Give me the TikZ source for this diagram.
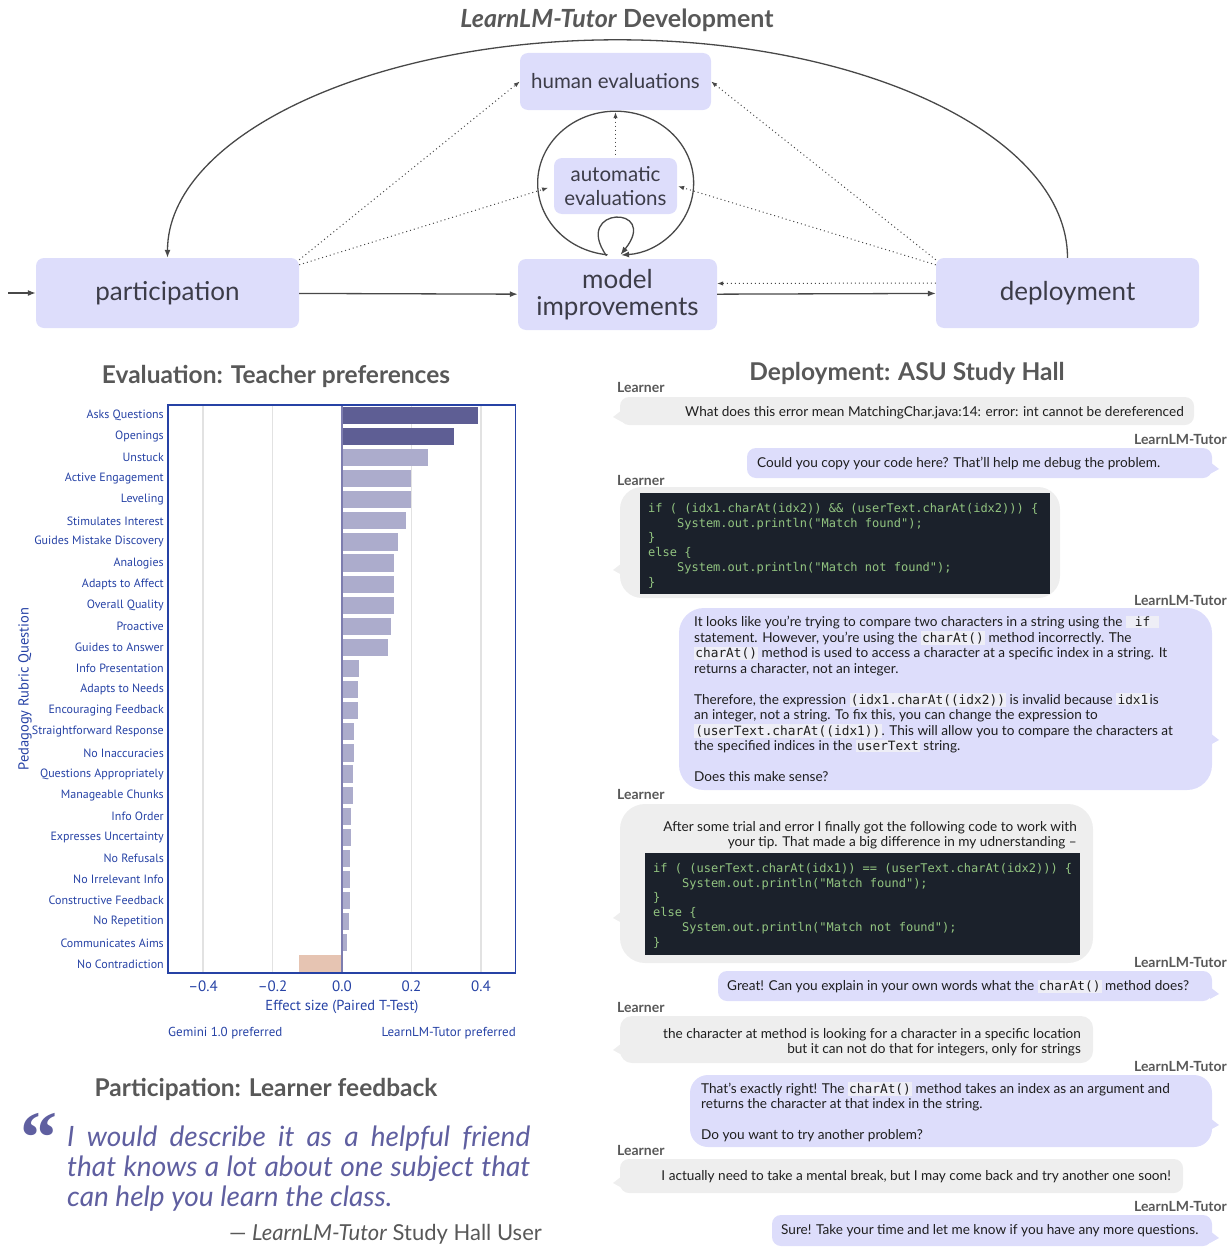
\documentclass[tikz,border=0pt]{standalone}
\usepackage{fontspec}
\setmainfont{Lato}
\setmonofont{DejaVu Sans Mono}
\newfontfamily\chartfont{PT Sans}
\newfontfamily\quotefont{Liberation Serif}
\usetikzlibrary{positioning,arrows.meta}

\definecolor{boxfill}{RGB}{221,221,251}
\definecolor{boxtext}{RGB}{60,60,72}
\definecolor{linegray}{RGB}{72,72,72}
\definecolor{headgray}{RGB}{88,88,88}
\definecolor{chattext}{RGB}{30,30,30}
\definecolor{learnerfill}{RGB}{238,238,238}
\definecolor{codebg}{RGB}{27,33,43}
\definecolor{codegreen}{RGB}{146,196,128}
\definecolor{inlinebg}{RGB}{238,238,246}
\definecolor{chartblue}{RGB}{38,66,165}
\definecolor{bardark}{RGB}{94,94,148}
\definecolor{barlight}{RGB}{172,172,204}
\definecolor{barneg}{RGB}{230,196,178}
\definecolor{zeroline}{RGB}{125,125,175}
\definecolor{gridgray}{RGB}{226,226,226}
\definecolor{quoteblue}{RGB}{95,95,160}

\newcommand{\fsz}[2]{\fontsize{#1}{#2}\selectfont}
\newcommand{\ic}[1]{{\setlength{\fboxsep}{1.2pt}\colorbox{inlinebg}{\ttfamily\fsz{12.8}{15.5}#1}}}
% bubble: x1, y1, x2, y2, corner radius, tail y
\newcommand{\learnerbubble}[6]{%
  \fill[learnerfill,rounded corners=#5] (#1,#2) rectangle (#3,#4);
  \fill[learnerfill] ({#1+2},{#6-7}) -- ({#1-7},#6) -- ({#1+2},{#6+5}) -- cycle;}
\newcommand{\tutorbubble}[6]{%
  \fill[boxfill,rounded corners=#5] (#1,#2) rectangle (#3,#4);
  \fill[boxfill] ({#3-2},{#6-7}) -- ({#3+7},#6) -- ({#3-2},{#6+5}) -- cycle;}

\begin{document}
\begin{tikzpicture}[x=1pt,y=-1pt]
    \tikzset{>={Latex[length=8pt,width=6pt]}}
    \tikzset{
      stage/.style={fill=boxfill, rounded corners=8pt, inner sep=0pt, text=boxtext},
      flow/.style={->, draw=linegray, line width=1.3pt},
      dotflow/.style={-{Latex[length=6pt,width=4.5pt]}, draw=linegray, line width=1pt, dash pattern=on 1pt off 3pt},
      heading/.style={font=\bfseries\fsz{24.5}{28}, text=headgray, inner sep=0pt},
      who/.style={font=\bfseries\fsz{14}{16}, text=headgray, inner sep=0pt},
      chat/.style={font=\fsz{13.6}{15.5}, text=chattext, inner sep=0pt},
      code/.style={font=\ttfamily\fsz{12}{14.75}, text=codegreen, inner sep=0pt, align=left},
      barlabel/.style={font=\chartfont\fsz{12}{14}, text=chartblue, inner sep=0pt},
      axislab/.style={font=\chartfont\fsz{14.5}{17}, text=chartblue, inner sep=0pt},
    }
    \useasboundingbox (0,0) rectangle (1229,1247);

    % development cycle
    \node[heading, font=\bfseries\fsz{25}{29}] (title) at (617,20) {\textit{LearnLM-Tutor} Development};
    \node[stage, minimum width=191pt, minimum height=57pt, font=\fsz{20.5}{24}] (human) at (615.5,81.5) {human evaluations};
    \node[stage, minimum width=123pt, minimum height=56pt, align=center, font=\fsz{20.5}{24}] (auto) at (615.5,186) {automatic\\evaluations};
    \node[stage, minimum width=263pt, minimum height=70pt, font=\fsz{26}{28}] (part) at (167.5,293) {participation};
    \node[stage, minimum width=199pt, minimum height=71pt, align=center, font=\fsz{26}{27}] (model) at (617.5,294.5) {model\\improvements};
    \node[stage, minimum width=263pt, minimum height=70pt, font=\fsz{26}{28}] (deploy) at (1067.5,293) {deployment};

    \coordinate (entry) at (8,293);
    \draw[flow] (entry) -- (part);
    \draw[flow] (part) -- (model);
    \draw[flow] (model) -- (deploy);
    \draw[flow] (deploy.north) arc[start angle=0, end angle=-180, x radius=450, y radius=218];
    \coordinate (loopstart) at ([xshift=-10pt,yshift=4pt]model.north);
    \draw[flow] (loopstart) arc[start angle=96, end angle=446, x radius=78, y radius=72];
    \draw[flow] ([xshift=-11pt,yshift=3pt]model.north) .. controls +(-35,-50) and +(40,-50) .. ([xshift=3pt,yshift=4pt]model.north);

    \draw[dotflow] ([yshift=-2pt]part.north east) -- (human.west);
    \draw[dotflow, shorten >=6pt] ([yshift=-7pt]part.north east) -- (auto.west);
    \draw[dotflow] ([yshift=-2pt]deploy.north west) -- (human.east);
    \draw[dotflow, shorten >=1pt] ([yshift=-7pt]deploy.north west) -- (auto.east);
    \draw[dotflow] ([yshift=10pt]deploy.west) -- ([yshift=11pt]model.east);
    \draw[dotflow, {Latex[length=6pt,width=4.5pt]}-, shorten <=2pt, shorten >=2pt] (human.south) -- (auto.north);

    % teacher preferences chart
    \node[heading] (evalhead) at (276,376) {Evaluation: Teacher preferences};
    \foreach \t in {-0.4,-0.2,0.2,0.4}{
      \draw[gridgray, line width=1.3pt] ({342+347.5*\t},406) -- ({342+347.5*\t},972);
    }
    \foreach \lab/\val/\col [count=\i] in {Asks Questions/0.390/bardark, Openings/0.323/bardark,
        Unstuck/0.247/barlight, Active Engagement/0.199/barlight, Leveling/0.199/barlight,
        Stimulates Interest/0.185/barlight, Guides Mistake Discovery/0.160/barlight,
        Analogies/0.150/barlight, Adapts to Affect/0.150/barlight, Overall Quality/0.149/barlight,
        Proactive/0.140/barlight, Guides to Answer/0.132/barlight, Info Presentation/0.048/barlight,
        Adapts to Needs/0.046/barlight, Encouraging Feedback/0.045/barlight,
        Straightforward Response/0.035/barlight, No Inaccuracies/0.034/barlight,
        Questions Appropriately/0.033/barlight, Manageable Chunks/0.031/barlight,
        Info Order/0.027/barlight, Expresses Uncertainty/0.025/barlight, No Refusals/0.024/barlight,
        No Irrelevant Info/0.023/barlight, Constructive Feedback/0.022/barlight,
        No Repetition/0.021/barlight, Communicates Aims/0.014/barlight, No Contradiction/-0.124/barneg}{
      \pgfmathsetmacro{\yy}{415.3+21.1*(\i-1)}
      \fill[\col] (342,\yy-8.6) rectangle ({342+347.5*\val},\yy+8.6);
      \node[barlabel, anchor=east] (lab\i) at (164,\yy) {\lab};
    }
    \draw[zeroline, line width=1.2pt] (342,406) -- (342,972);
    \draw[chartblue, line width=1.5pt] (168,405) rectangle (515.5,973);
    \foreach \t/\s [count=\i] in {-0.4/–0.4, -0.2/–0.2, 0/0.0, 0.2/0.2, 0.4/0.4}{
      \node[axislab, font=\chartfont\fsz{15}{17}] (tick\i) at ({342+347.5*\t},986) {\s};
    }
    \node[axislab] (xlab) at (342,1007) {Effect size (Paired T-Test)};
    \node[axislab, rotate=90] (ylab) at (25,689) {Pedagogy Rubric Question};
    \node[barlabel, font=\chartfont\fsz{13}{15}, anchor=west] (leftpref) at (168,1033) {Gemini 1.0 preferred};
    \node[barlabel, font=\chartfont\fsz{13}{15}, anchor=east] (rightpref) at (516,1033) {LearnLM-Tutor preferred};

    % learner feedback
    \node[heading] (parthead) at (266,1089) {Participation: Learner feedback};
    \node[font=\quotefont\bfseries\fsz{74}{74}, text=quoteblue, inner sep=0pt, anchor=base west] (qmark) at (20,1162) {“};
    \node[font=\itshape\fsz{28}{30}, text=quoteblue, inner sep=0pt, anchor=base west, align=left] (quote) at (67,1206)
      {\makebox[463pt][s]{I would describe it as a helpful friend}\\
       \makebox[463pt][s]{that knows a lot about one subject that}\\
       can help you learn the class.};
    \node[font=\fsz{22}{25}, text=headgray, inner sep=0pt, anchor=base east] (attrib) at (542,1240)
      {— \textit{LearnLM-Tutor} Study Hall User};

    % study hall conversation
    \node[heading] (deployhead) at (907,373) {Deployment: ASU Study Hall};

    \node[who, anchor=west] (who1) at (617,387) {Learner};
    \learnerbubble{620}{397}{1194}{425}{9}{417}
    \node[chat, anchor=base east] (msg1) at (1184,416.5)
      {What does this error mean MatchingChar.java:14: error: int cannot be dereferenced};

    \node[who, anchor=east] (who2) at (1227,439) {LearnLM-Tutor};
    \tutorbubble{747}{448}{1212}{478}{9}{469}
    \node[chat, anchor=base west] (msg2) at (757,467.5)
      {Could you copy your code here? That'll help me debug the problem.};

    \node[who, anchor=west] (who3) at (617,480) {Learner};
    \learnerbubble{620}{487}{1060}{598}{22}{570}
    \fill[codebg] (640,493) rectangle (1050,594);
    \node[code, anchor=base west] (code1) at (648,586)
      {if ( (idx1.charAt(idx2)) \&\& (userText.charAt(idx2))) \{\\
       \phantom{xxxx}System.out.println("Match found");\\
       \}\\
       else \{\\
       \phantom{xxxx}System.out.println("Match not found");\\
       \}};

    \node[who, anchor=east] (who4) at (1227,600) {LearnLM-Tutor};
    \tutorbubble{679}{608}{1212}{790}{25}{740}
    \node[chat, anchor=base west, align=left] (msg4) at (694,781.5)
      {It looks like you're trying to compare two characters in a string using the \ic{ if }\\
       statement. However, you're using the \ic{charAt()} method incorrectly. The\\
       \ic{charAt()} method is used to access a character at a specific index in a string. It\\
       returns a character, not an integer.\\[15.5pt]
       Therefore, the expression \ic{(idx1.charAt((idx2))} is invalid because \ic{idx1}is\\
       an integer, not a string. To fix this, you can change the expression to\\
       \ic{(userText.charAt((idx1))}. This will allow you to compare the characters at\\
       the specified indices in the \ic{userText} string.\\[15.5pt]
       Does this make sense?};

    \node[who, anchor=west] (who5) at (617,794) {Learner};
    \learnerbubble{620}{804}{1093}{963}{25}{918}
    \node[chat, anchor=base east, align=right] (msg5) at (1077,846.5)
      {After some trial and error I finally got the following code to work with\\
       your tip. That made a big difference in my udnerstanding –};
    \fill[codebg] (645,853) rectangle (1080,955);
    \node[code, anchor=base west] (code2) at (653,946)
      {if ( (userText.charAt(idx1)) == (userText.charAt(idx2))) \{\\
       \phantom{xxxx}System.out.println("Match found");\\
       \}\\
       else \{\\
       \phantom{xxxx}System.out.println("Match not found");\\
       \}};

    \node[who, anchor=east] (who6) at (1227,962) {LearnLM-Tutor};
    \tutorbubble{718}{971}{1212}{1001}{9}{994}
    \node[chat, anchor=base west] (msg6) at (727,990.5)
      {Great! Can you explain in your own words what the \ic{charAt()} method does?};

    \node[who, anchor=west] (who7) at (617,1007) {Learner};
    \learnerbubble{620}{1016}{1093}{1063}{12}{1050}
    \node[chat, anchor=base east, align=right] (msg7) at (1081,1053.5)
      {the character at method is looking for a character in a specific location\\
       but it can not do that for integers, only for strings};

    \node[who, anchor=east] (who8) at (1227,1066) {LearnLM-Tutor};
    \tutorbubble{690}{1075}{1212}{1147}{18}{1125}
    \node[chat, anchor=base west, align=left] (msg8) at (701,1139.5)
      {That's exactly right! The \ic{charAt()} method takes an index as an argument and\\
       returns the character at that index in the string.\\[15.5pt]
       Do you want to try another problem?};

    \node[who, anchor=west] (who9) at (617,1150) {Learner};
    \learnerbubble{620}{1159}{1183}{1193}{9}{1183}
    \node[chat, anchor=base east] (msg9) at (1171,1180.5)
      {I actually need to take a mental break, but I may come back and try another one soon!};

    \node[who, anchor=east] (who10) at (1227,1206) {LearnLM-Tutor};
    \tutorbubble{772}{1215}{1212}{1246}{9}{1238}
    \node[chat, anchor=base west] (msg10) at (781,1234.5)
      {Sure! Take your time and let me know if you have any more questions.};
\end{tikzpicture}
\end{document}
